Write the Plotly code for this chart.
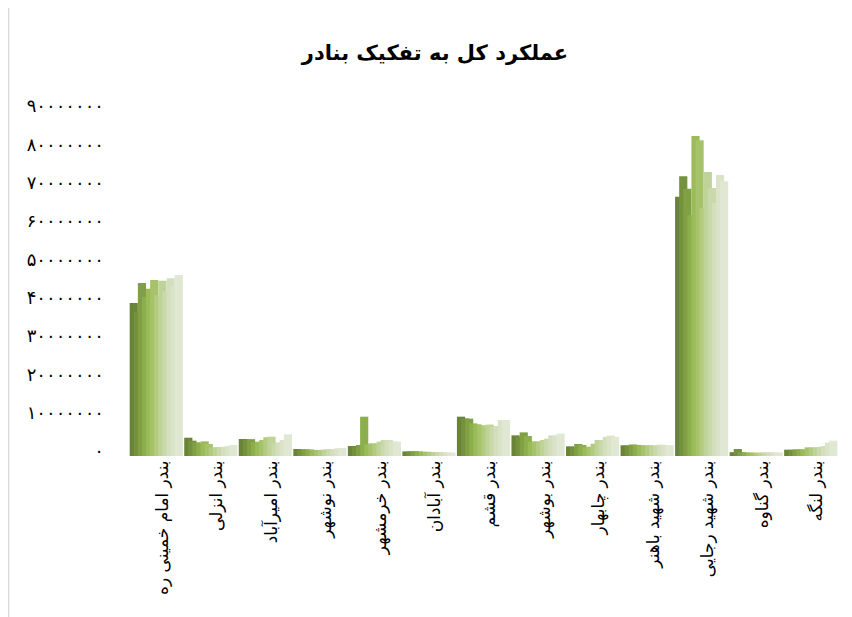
import plotly.graph_objects as go

ports = ["بندر امام خمینی ره", "بندر انزلی", "بندر امیرآباد", "بندر نوشهر", "بندر خرمشهر",
         "بندر آبادان", "بندر قشم", "بندر بوشهر", "بندر چابهار", "بندر شهید باهنر",
         "بندر شهید رجایی", "بندر گناوه", "بندر لنگه"]

# values in millions (per port, 12 series)
imam = [39.9, 37.6, 45.1, 41.5, 43.6, 45.9, 42.0, 45.7, 43.0, 46.4, 44.5, 47.2]
anzali = [4.77, 4.0, 3.57, 3.4, 3.83, 3.13, 2.2, 2.27, 2.35, 2.4, 2.61, 2.87]
amirabad = [4.43, 4.3, 4.4, 3.6, 3.74, 4.17, 4.9, 5.04, 3.4, 3.57, 4.17, 5.65]
nowshahr = [1.83, 1.7, 1.75, 1.7, 1.6, 1.55, 1.6, 1.7, 1.75, 1.7, 2.0, 2.09]
khorramshahr = [2.61, 2.4, 2.87, 10.26, 3.0, 3.3, 3.2, 3.74, 4.17, 4.17, 3.8, 3.74]
abadan = [1.2, 1.2, 1.25, 1.2, 1.1, 1.1, 1.05, 1.0, 1.0, 0.95, 0.9, 0.9]
qeshm = [10.26, 9.8, 9.74, 8.5, 8.26, 8.0, 7.8, 8.2, 7.6, 7.83, 9.39, 9.39]
bushehr = [5.39, 5.0, 6.17, 5.22, 3.7, 3.83, 3.6, 4.17, 4.52, 5.39, 5.2, 5.83]
chabahar = [2.52, 2.3, 3.13, 2.87, 2.3, 2.44, 3.2, 4.17, 4.0, 5.04, 5.3, 4.96]
bahonar = [2.8, 2.7, 3.0, 2.9, 2.8, 2.75, 2.8, 2.7, 2.8, 2.95, 2.85, 2.8]
rajaee = [67.6, 73.0, 69.7, 62.9, 83.5, 82.4, 64.7, 74.1, 69.9, 66.0, 73.3, 71.7]
genaveh = [1.0, 1.83, 1.0, 0.9, 0.9, 0.85, 0.85, 0.9, 0.9, 0.95, 0.9, 0.9]
lengeh = [1.65, 1.6, 1.74, 1.7, 1.74, 2.26, 2.2, 2.26, 2.4, 2.61, 3.48, 4.0]

port_values = [imam, anzali, amirabad, nowshahr, khorramshahr, abadan, qeshm,
               bushehr, chabahar, bahonar, rajaee, genaveh, lengeh]

series_names = ["سری ۱", "سری ۲", "سری ۳", "سری ۴", "سری ۵", "سری ۶",
                "سری ۷", "سری ۸", "سری ۹", "سری ۱۰", "سری ۱۱", "سری ۱۲"]

colors = ["#6A8437", "#75913D", "#81A044", "#8DAE4D", "#9BBB59", "#A6C36B",
          "#B3CB80", "#BFD398", "#CAD9AC", "#D3DFBC", "#DAE3C8", "#E0E8D4"]

y_tick_vals = [0, 10e6, 20e6, 30e6, 40e6, 50e6, 60e6, 70e6, 80e6, 90e6]
y_tick_text = ["۰", "۱۰۰۰۰۰۰۰", "۲۰۰۰۰۰۰۰", "۳۰۰۰۰۰۰۰", "۴۰۰۰۰۰۰۰",
               "۵۰۰۰۰۰۰۰", "۶۰۰۰۰۰۰۰", "۷۰۰۰۰۰۰۰", "۸۰۰۰۰۰۰۰", "۹۰۰۰۰۰۰۰"]

title_text = "عملکرد کل به تفکیک بنادر"

n = len(series_names)
bar_w = 0.15
step = bar_w / 2
start = -(n + 1) * step / 2

fig = go.Figure()
for k in range(n):
    fig.add_trace(go.Bar(
        x=ports,
        y=[pv[k] * 1e6 for pv in port_values],
        name=series_names[k],
        marker=dict(color=colors[k], line=dict(width=0)),
        width=bar_w,
        offset=start + k * step,
        showlegend=False,
    ))

# the page body adds an 8px offset
W, H = 844, 609
ml, mr, mt, mb = 121, 14, 103, 161
fig.update_layout(
    width=W, height=H,
    margin=dict(l=ml, r=mr, t=mt, b=mb),
    barmode="overlay",
    paper_bgcolor="white",
    plot_bgcolor="white",
    font=dict(family="DejaVu Sans", color="#000000"),
    title=dict(text="<b>" + title_text + "</b>", x=427 / W, xanchor="center",
               y=1 - 45 / H, yanchor="middle", font=dict(size=21)),
    xaxis=dict(type="category", categoryorder="array", categoryarray=ports,
               tickangle=-90, tickfont=dict(size=17), showgrid=False,
               showline=False, ticks="", range=[-0.5, len(ports) - 0.5],
               ticklabelshift=6),
    yaxis=dict(range=[0, 90e6], tickvals=y_tick_vals, ticktext=y_tick_text,
               tickfont=dict(size=18), showgrid=False, showline=False,
               zeroline=False, ticks="", ticklabelstandoff=24,
               ticklabelshift=-5),
)

pw = W - ml - mr
ph = H - mt - mb
fig.add_shape(type="line", xref="paper", yref="paper",
              x0=(0.5 - ml) / pw, x1=(0.5 - ml) / pw,
              y0=(H - mt + 10) / ph, y1=-(mb + 10) / ph,
              line=dict(color="#D9D9D9", width=1.5))

fig.write_html("out.html")
